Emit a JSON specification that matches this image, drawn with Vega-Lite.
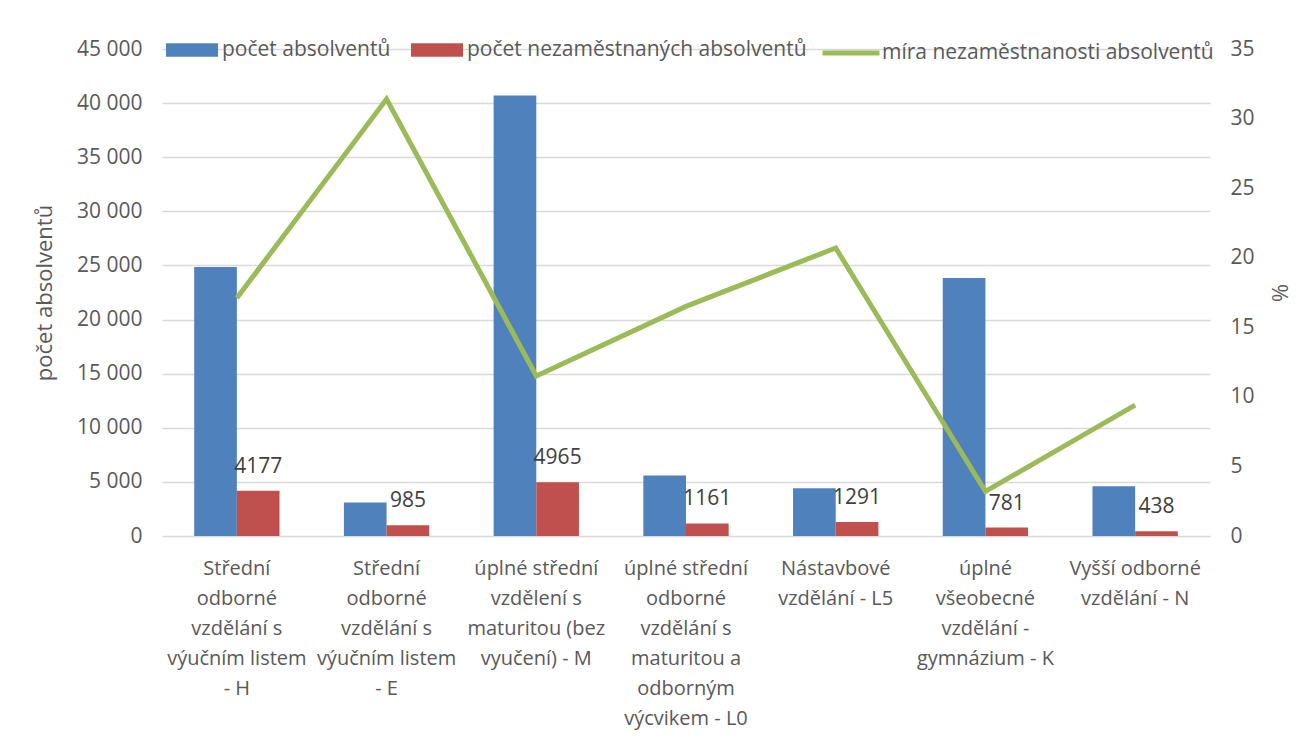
{
  "$schema": "https://vega.github.io/schema/vega-lite/v6.json",
  "width": 1048,
  "height": 487,
  "autosize": {"type": "none"},
  "padding": {"left": 162, "top": 49, "right": 102, "bottom": 215},
  "background": "white",
  "config": {
    "font": "Open Sans",
    "view": {"stroke": null},
    "axis": {"labelColor": "#595959", "titleColor": "#595959", "titleFontWeight": "normal", "ticks": false, "domain": false},
    "legend": {"labelColor": "#595959", "labelFontSize": 21, "labelFont": "Open Sans", "padding": 0}
  },
  "data": {
    "values": [
      {"kategorie": "Střední|odborné|vzdělání s|výučním listem|- H", "absolventi": 24850, "nezamestnani": 4177, "mira": 17.1},
      {"kategorie": "Střední|odborné|vzdělání s|výučním listem|- E", "absolventi": 3090, "nezamestnani": 985, "mira": 31.4},
      {"kategorie": "úplné střední|vzdělení s|maturitou (bez|vyučení) - M", "absolventi": 40700, "nezamestnani": 4965, "mira": 11.5},
      {"kategorie": "úplné střední|odborné|vzdělání s|maturitou a|odborným|výcvikem - L0", "absolventi": 5580, "nezamestnani": 1161, "mira": 16.5},
      {"kategorie": "Nástavbové|vzdělání - L5", "absolventi": 4410, "nezamestnani": 1291, "mira": 20.7},
      {"kategorie": "úplné|všeobecné|vzdělání -|gymnázium - K", "absolventi": 23830, "nezamestnani": 781, "mira": 3.2},
      {"kategorie": "Vyšší odborné|vzdělání - N", "absolventi": 4590, "nezamestnani": 438, "mira": 9.4}
    ]
  },
  "layer": [
    {
      "transform": [{"fold": ["absolventi", "nezamestnani"], "as": ["serie", "hodnota"]}],
      "layer": [
        {
          "mark": {"type": "bar"},
          "encoding": {
            "x": {
              "field": "kategorie", "type": "nominal", "sort": null,
              "scale": {"paddingInner": 0.43, "paddingOuter": 0.215},
              "axis": {"title": null, "labelAngle": 0, "labelExpr": "split(datum.label, '|')", "labelFontSize": 20, "labelLineHeight": 30, "labelPadding": 22, "labelBaseline": "top", "labelLimit": 0, "labelOverlap": false}
            },
            "xOffset": {"field": "serie", "type": "nominal", "sort": ["absolventi", "nezamestnani"]},
            "y": {
              "field": "hodnota", "type": "quantitative",
              "scale": {"domain": [0, 45000], "nice": false},
              "axis": {
                "values": [0, 5000, 10000, 15000, 20000, 25000, 30000, 35000, 40000, 45000],
                "labelExpr": "replace(format(datum.value, ','), ',', ' ')",
                "title": "počet absolventů", "titleFontSize": 22, "titlePadding": 20,
                "labelFontSize": 21, "labelPadding": 20,
                "grid": true, "gridColor": "#D9D9D9", "gridWidth": 1.4
              }
            },
            "color": {
              "field": "serie", "type": "nominal",
              "scale": {"domain": ["absolventi", "nezamestnani"], "range": ["#4F81BD", "#C0504D"]},
              "legend": {
                "title": null, "orient": "none", "direction": "horizontal", "legendX": 4, "legendY": -25,
                "labelExpr": "datum.value === 'absolventi' ? 'počet absolventů' : 'počet nezaměstnaných absolventů'",
                "symbolType": "M-1,-0.26L1,-0.26L1,0.26L-1,0.26Z", "symbolSize": 2704, "symbolStrokeWidth": 0,
                "labelOffset": 4, "columnPadding": 20, "labelLimit": 500
              }
            }
          }
        },
        {
          "transform": [{"filter": "datum.serie === 'nezamestnani'"}],
          "mark": {"type": "text", "fontSize": 21, "color": "#404040", "baseline": "alphabetic", "dy": -18},
          "encoding": {
            "x": {"field": "kategorie", "type": "nominal", "sort": null},
            "xOffset": {"field": "serie", "type": "nominal", "sort": ["absolventi", "nezamestnani"]},
            "y": {"field": "hodnota", "type": "quantitative"},
            "text": {"field": "hodnota", "type": "quantitative", "format": "d"}
          }
        }
      ]
    },
    {
      "mark": {"type": "line", "strokeWidth": 5, "strokeJoin": "miter"},
      "encoding": {
        "x": {"field": "kategorie", "type": "nominal", "sort": null},
        "y": {
          "field": "mira", "type": "quantitative",
          "scale": {"domain": [0, 35], "nice": false},
          "axis": {
            "orient": "right", "values": [0, 5, 10, 15, 20, 25, 30, 35],
            "title": "%", "titleFontSize": 22, "titlePadding": 12,
            "labelFontSize": 21, "labelPadding": 20, "grid": false
          }
        },
        "stroke": {
          "datum": "míra nezaměstnanosti absolventů",
          "scale": {"range": ["#9BBB59"]},
          "legend": {
            "title": null, "orient": "none", "direction": "horizontal", "legendX": 658, "legendY": -27,
            "symbolType": "stroke", "symbolSize": 3249, "symbolStrokeWidth": 5, "labelOffset": 0, "labelLimit": 500
          }
        }
      }
    }
  ],
  "resolve": {"scale": {"y": "independent"}}
}
